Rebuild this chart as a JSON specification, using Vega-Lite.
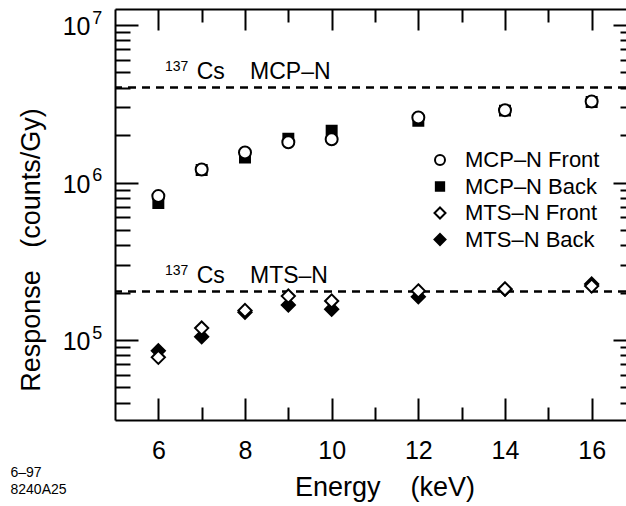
{
  "$schema": "https://vega.github.io/schema/vega-lite/v6.json",
  "width": 511,
  "height": 411,
  "autosize": {"type": "none"},
  "padding": {"left": 115, "top": 9, "right": 0, "bottom": 86},
  "background": "white",
  "config": {
    "view": {"stroke": null},
    "font": "Liberation Sans",
    "axis": {
      "domainColor": "black", "domainWidth": 2, "tickColor": "black", "tickWidth": 2,
      "labelColor": "black", "labelFont": "Liberation Sans", "titleFont": "Liberation Sans",
      "titleColor": "black", "titleFontWeight": "normal", "grid": false,
      "labelFontSize": 25, "titleFontSize": 27, "labelFlush": false, "labelOverlap": false
    }
  },
  "datasets": {
    "points": [
      {"energy": 6, "response": 740000, "series": "MCP–N Back"},
      {"energy": 7, "response": 1200000, "series": "MCP–N Back"},
      {"energy": 8, "response": 1440000, "series": "MCP–N Back"},
      {"energy": 9, "response": 1900000, "series": "MCP–N Back"},
      {"energy": 10, "response": 2130000, "series": "MCP–N Back"},
      {"energy": 12, "response": 2470000, "series": "MCP–N Back"},
      {"energy": 14, "response": 2860000, "series": "MCP–N Back"},
      {"energy": 16, "response": 3250000, "series": "MCP–N Back"},
      {"energy": 6, "response": 820000, "series": "MCP–N Front"},
      {"energy": 7, "response": 1210000, "series": "MCP–N Front"},
      {"energy": 8, "response": 1550000, "series": "MCP–N Front"},
      {"energy": 9, "response": 1800000, "series": "MCP–N Front"},
      {"energy": 10, "response": 1880000, "series": "MCP–N Front"},
      {"energy": 12, "response": 2590000, "series": "MCP–N Front"},
      {"energy": 14, "response": 2880000, "series": "MCP–N Front"},
      {"energy": 16, "response": 3270000, "series": "MCP–N Front"},
      {"energy": 6, "response": 85500, "series": "MTS–N Back"},
      {"energy": 7, "response": 105000, "series": "MTS–N Back"},
      {"energy": 8, "response": 150000, "series": "MTS–N Back"},
      {"energy": 9, "response": 167000, "series": "MTS–N Back"},
      {"energy": 10, "response": 157000, "series": "MTS–N Back"},
      {"energy": 12, "response": 188000, "series": "MTS–N Back"},
      {"energy": 14, "response": 210000, "series": "MTS–N Back"},
      {"energy": 16, "response": 227000, "series": "MTS–N Back"},
      {"energy": 6, "response": 77600, "series": "MTS–N Front"},
      {"energy": 7, "response": 119000, "series": "MTS–N Front"},
      {"energy": 8, "response": 154000, "series": "MTS–N Front"},
      {"energy": 9, "response": 190000, "series": "MTS–N Front"},
      {"energy": 10, "response": 177000, "series": "MTS–N Front"},
      {"energy": 12, "response": 205000, "series": "MTS–N Front"},
      {"energy": 14, "response": 211000, "series": "MTS–N Front"},
      {"energy": 16, "response": 220000, "series": "MTS–N Front"}
    ],
    "refs": [
      {"detector": "MCP–N", "level": 4010000},
      {"detector": "MTS–N", "level": 203000}
    ],
    "notes": [
      {"energy": 6.154, "level": 4010000, "text": "137", "part": "iso"},
      {"energy": 6.885, "level": 4010000, "text": "Cs", "part": "main"},
      {"energy": 8.116, "level": 4010000, "text": "MCP–N", "part": "main"},
      {"energy": 6.154, "level": 203000, "text": "137", "part": "iso"},
      {"energy": 6.885, "level": 203000, "text": "Cs", "part": "main"},
      {"energy": 8.116, "level": 203000, "text": "MTS–N", "part": "main"}
    ]
  },
  "layer": [
    {
      "data": {"name": "refs"},
      "mark": {"type": "rule", "strokeDash": [8, 6], "strokeWidth": 2.5, "color": "black"},
      "encoding": {
        "y": {
          "field": "level", "type": "quantitative",
          "scale": {"type": "log", "domain": [31050, 12640000], "nice": false, "zero": false},
          "axis": {
            "orient": "left", "values": [100000, 1000000, 10000000],
            "labelExpr": "datum.value == 100000 ? '5' : datum.value == 1000000 ? '6' : '7'",
            "ticks": false, "tickSize": 0, "domain": false,
            "labelFontSize": 18, "labelAlign": "left", "labelBaseline": "alphabetic",
            "labelPadding": 23.3, "labelOffset": -2,
            "title": ["6–97", "8240A25"], "titleAngle": 0, "titleAlign": "left",
            "titleBaseline": "alphabetic", "titleX": -105, "titleY": 467,
            "titleFontSize": 14, "titleLineHeight": 17
          }
        }
      }
    },
    {
      "data": {"name": "notes"},
      "transform": [{"filter": "datum.part == 'iso'"}],
      "mark": {"type": "text", "fontSize": 14, "align": "left", "baseline": "alphabetic", "dy": -16.5, "color": "black", "font": "Liberation Sans"},
      "encoding": {
        "x": {
          "field": "energy", "type": "quantitative",
          "scale": {"domain": [5, 16.7925], "nice": false, "zero": false},
          "axis": {
            "orient": "top", "values": [6, 7, 8, 9, 10, 11, 12, 13, 14, 15, 16],
            "labels": false, "title": null, "domain": true,
            "tickSize": {"condition": {"test": "datum.value % 2 == 0", "value": -21}, "value": -13}
          }
        },
        "y": {
          "field": "level", "type": "quantitative",
          "scale": {"type": "log", "domain": [31050, 12640000], "nice": false, "zero": false},
          "axis": {
            "orient": "right",
            "values": [40000, 50000, 60000, 70000, 80000, 90000, 100000, 200000, 300000, 400000, 500000, 600000, 700000, 800000, 900000, 1000000, 2000000, 3000000, 4000000, 5000000, 6000000, 7000000, 8000000, 9000000, 10000000],
            "labels": false, "title": null, "domain": false,
            "tickSize": {"condition": {"test": "indexof([100000, 1000000, 10000000], datum.value) >= 0", "value": -13}, "value": -6}
          }
        },
        "text": {"field": "text", "type": "nominal"}
      }
    },
    {
      "data": {"name": "notes"},
      "transform": [{"filter": "datum.part == 'main'"}],
      "mark": {"type": "text", "fontSize": 23, "align": "left", "baseline": "alphabetic", "dy": -8.3, "color": "black", "font": "Liberation Sans"},
      "encoding": {
        "x": {"field": "energy", "type": "quantitative", "scale": {"domain": [5, 16.7925], "nice": false, "zero": false}, "axis": null},
        "y": {"field": "level", "type": "quantitative", "scale": {"type": "log", "domain": [31050, 12640000], "nice": false, "zero": false}, "axis": null},
        "text": {"field": "text", "type": "nominal"}
      }
    },
    {
      "data": {"name": "points"},
      "mark": {"type": "point", "filled": true, "size": 144, "strokeWidth": 2, "opacity": 1},
      "encoding": {
        "x": {
          "field": "energy", "type": "quantitative",
          "scale": {"domain": [5, 16.7925], "nice": false, "zero": false},
          "axis": {
            "orient": "bottom", "values": [6, 7, 8, 9, 10, 11, 12, 13, 14, 15, 16],
            "labelExpr": "datum.value % 2 == 0 ? datum.label : ''",
            "tickSize": {"condition": {"test": "datum.value % 2 == 0", "value": -22}, "value": -13},
            "labelPadding": 40, "labelBaseline": "top",
            "title": "Energy\u00a0\u00a0\u00a0\u00a0(keV)", "titleX": 269.5, "titleY": 75,
            "titleAlign": "center", "titleBaseline": "alphabetic"
          }
        },
        "y": {
          "field": "response", "type": "quantitative",
          "scale": {"type": "log", "domain": [31050, 12640000], "nice": false, "zero": false},
          "axis": {
            "orient": "left",
            "values": [40000, 50000, 60000, 70000, 80000, 90000, 100000, 200000, 300000, 400000, 500000, 600000, 700000, 800000, 900000, 1000000, 2000000, 3000000, 4000000, 5000000, 6000000, 7000000, 8000000, 9000000, 10000000],
            "labelExpr": "indexof([100000, 1000000, 10000000], datum.value) >= 0 ? '10' : ''",
            "tickSize": {"condition": {"test": "indexof([100000, 1000000, 10000000], datum.value) >= 0", "value": -23}, "value": -15},
            "labelPadding": 48, "labelAlign": "right", "labelBaseline": "middle", "labelOffset": 1.5,
            "title": "Response\u00a0\u00a0\u00a0(counts/Gy)", "titleX": -76, "titleY": 240.5, "titleAngle": 270,
            "titleAlign": "center", "titleBaseline": "alphabetic"
          }
        },
        "shape": {
          "field": "series", "type": "nominal",
          "scale": {
            "domain": ["MCP–N Front", "MCP–N Back", "MTS–N Front", "MTS–N Back"],
            "range": ["circle", "M-0.83,-0.83H0.83V0.83H-0.83Z", "M0,-1.1L1.1,0L0,1.1L-1.1,0Z", "M0,-1.1L1.1,0L0,1.1L-1.1,0Z"]
          },
          "legend": {
            "title": null, "orient": "none", "legendX": 314, "legendY": 140, "padding": 0,
            "symbolSize": 100, "symbolStrokeWidth": 2,
            "labelFontSize": 22, "labelOffset": 14, "rowPadding": 4.5,
            "labelFont": "Liberation Sans", "labelColor": "black", "labelLimit": 300
          }
        },
        "fill": {
          "field": "series", "type": "nominal",
          "scale": {
            "domain": ["MCP–N Front", "MCP–N Back", "MTS–N Front", "MTS–N Back"],
            "range": ["white", "black", "white", "black"]
          },
          "legend": {
            "title": null, "orient": "none", "legendX": 314, "legendY": 140, "padding": 0,
            "symbolSize": 100, "symbolStrokeWidth": 2,
            "labelFontSize": 22, "labelOffset": 14, "rowPadding": 4.5,
            "labelFont": "Liberation Sans", "labelColor": "black", "labelLimit": 300
          }
        },
        "stroke": {
          "field": "series", "type": "nominal",
          "scale": {
            "domain": ["MCP–N Front", "MCP–N Back", "MTS–N Front", "MTS–N Back"],
            "range": ["black", "black", "black", "black"]
          },
          "legend": {
            "title": null, "orient": "none", "legendX": 314, "legendY": 140, "padding": 0,
            "symbolSize": 100, "symbolStrokeWidth": 2,
            "labelFontSize": 22, "labelOffset": 14, "rowPadding": 4.5,
            "labelFont": "Liberation Sans", "labelColor": "black", "labelLimit": 300
          }
        }
      }
    }
  ],
  "resolve": {"axis": {"x": "independent", "y": "independent"}}
}
